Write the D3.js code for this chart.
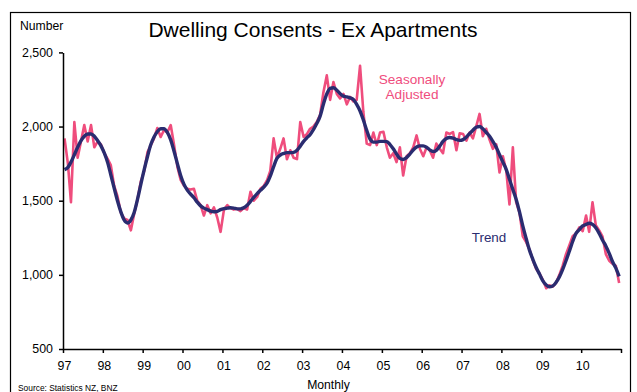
<!DOCTYPE html>
<html>
<head>
<meta charset="utf-8">
<script src="https://cdn.jsdelivr.net/npm/d3@7"></script>
<style>
  html, body { margin: 0; padding: 0; background: #fff; }
  svg { display: block; font-family: "Liberation Sans", Arial, sans-serif; }
</style>
</head>
<body>
<svg id="chart" width="637" height="392"></svg>
<script>
// Monthly dwelling consents excluding apartments, Jan 1997 - Dec 2010
const startYear = 1997;
const yearTicks = [1997, 1998, 1999, 2000, 2001, 2002, 2003, 2004, 2005, 2006, 2007, 2008, 2009, 2010, 2011];
const valueTicks = [500, 1000, 1500, 2000, 2500];

const seasonallyAdjusted = [
  1920, 1750, 1490, 2030, 1790, 1900, 2010, 1900, 2010, 1860, 1900, 1880, // 1997
  1820, 1780, 1740, 1600, 1530, 1420, 1380, 1370, 1300, 1410, 1510, 1630, // 1998
  1700, 1830, 1870, 1920, 1990, 1930, 1975, 1960, 2010, 1880, 1730, 1640, // 1999
  1600, 1580, 1575, 1580, 1500, 1470, 1400, 1470, 1415, 1455, 1385, 1290, // 2000
  1440, 1470, 1450, 1440, 1445, 1430, 1450, 1440, 1560, 1500, 1525, 1580, // 2001
  1600, 1640, 1700, 1920, 1790, 1850, 1920, 1780, 1840, 1790, 1780, 2030, // 2002
  1930, 1950, 1985, 2000, 2030, 2080, 2230, 2345, 2180, 2300, 2220, 2190, // 2003
  2220, 2150, 2200, 2170, 2180, 2410, 2100, 1885, 1875, 1960, 1875, 1960, // 2004
  1965, 1860, 1790, 1820, 1760, 1860, 1670, 1800, 1820, 1860, 1940, 1850, // 2005
  1800, 1860, 1840, 1790, 1885, 1850, 1820, 1960, 1950, 1963, 1840, 1955, // 2006
  1950, 1905, 1960, 1920, 2000, 2085, 1935, 1985, 1910, 1850, 1880, 1690, // 2007
  1800, 1700, 1475, 1860, 1490, 1420, 1260, 1220, 1170, 1100, 1040, 1010, // 2008
   965,  910,  930,  920,  945, 1000, 1060, 1140, 1200, 1260, 1280, 1320, // 2009
  1295, 1400, 1290, 1490, 1335, 1300, 1260, 1140, 1095, 1075, 1060,  945  // 2010
];

const trend = [
  1710, 1725, 1760, 1810, 1860, 1905, 1935, 1950, 1950, 1935, 1905, 1870, // 1997
  1820, 1755, 1675, 1585, 1500, 1425, 1370, 1350, 1370, 1420, 1510, 1610, // 1998
  1710, 1800, 1875, 1930, 1965, 1985, 1985, 1960, 1910, 1835, 1750, 1670, // 1999
  1610, 1570, 1545, 1520, 1490, 1465, 1450, 1440, 1430, 1425, 1428, 1440, // 2000
  1447, 1450, 1452, 1450, 1445, 1445, 1452, 1470, 1495, 1522, 1548, 1570, // 2001
  1592, 1620, 1665, 1730, 1785, 1808, 1818, 1824, 1824, 1826, 1840, 1868, // 2002
  1900, 1925, 1945, 1980, 2020, 2070, 2150, 2220, 2258, 2262, 2245, 2222, // 2003
  2205, 2200, 2193, 2182, 2150, 2105, 2045, 1975, 1915, 1895, 1895, 1900, // 2004
  1900, 1898, 1880, 1850, 1815, 1785, 1778, 1790, 1815, 1842, 1862, 1870, // 2005
  1870, 1860, 1843, 1832, 1840, 1868, 1900, 1920, 1926, 1922, 1912, 1907, // 2006
  1912, 1930, 1952, 1975, 1995, 2000, 1985, 1960, 1935, 1900, 1860, 1810, // 2007
  1760, 1710, 1645, 1575, 1510, 1425, 1330, 1245, 1165, 1105, 1050, 1005, // 2008
   960,  932,  920,  925,  948,  985, 1035, 1095, 1160, 1225, 1280, 1305, // 2009
  1330, 1340, 1348, 1340, 1318, 1280, 1235, 1195, 1145, 1090, 1045,  990  // 2010
];

const pink = "#ef4d7d";
const navy = "#2a2c70";

const svg = d3.select("#chart");

// outer frame
svg.append("rect")
  .attr("x", 10.5).attr("y", 12.5)
  .attr("width", 620).attr("height", 392)
  .attr("fill", "none").attr("stroke", "#000").attr("stroke-width", 1.2);

const x = d3.scaleTime()
  .domain([new Date(1997, 0, 1), new Date(2011, 0, 1)])
  .range([63, 621]);
const y = d3.scaleLinear()
  .domain([500, 2500])
  .range([349, 52.4]);

// each monthly value sits mid-month
const monthDate = i => new Date(startYear, i, 15);

const line = d3.line()
  .x((d, i) => x(monthDate(i)))
  .y(d => y(d));

svg.append("path")
  .datum(seasonallyAdjusted)
  .attr("d", line)
  .attr("fill", "none")
  .attr("stroke", pink)
  .attr("stroke-width", 2.6)
  .attr("stroke-linejoin", "round");

svg.append("path")
  .datum(trend)
  .attr("d", line.curve(d3.curveMonotoneX))
  .attr("fill", "none")
  .attr("stroke", navy)
  .attr("stroke-width", 3.4)
  .attr("stroke-linejoin", "round");

// axes
const xAxis = d3.axisBottom(x)
  .tickValues(yearTicks.map(yr => new Date(yr, 0, 1)))
  .tickFormat(d => d.getFullYear() === 2011 ? "" : String(d.getFullYear() % 100).padStart(2, "0"))
  .tickSize(4)
  .tickSizeOuter(0)
  .tickPadding(8);

const yAxis = d3.axisLeft(y)
  .tickValues(valueTicks)
  .tickFormat(d3.format(","))
  .tickSize(4)
  .tickSizeOuter(0)
  .tickPadding(6);

const gx = svg.append("g").attr("transform", "translate(0,349)").call(xAxis);
const gy = svg.append("g").attr("transform", "translate(63,0)").call(yAxis);

[gx, gy].forEach(g => {
  g.select(".domain").attr("stroke", "#000").attr("stroke-width", 1.5);
  g.selectAll(".tick line").attr("stroke", "#000").attr("stroke-width", 1.5);
  g.selectAll(".tick text")
    .attr("fill", "#000")
    .style("font-family", "'Liberation Sans', Arial, sans-serif")
    .style("font-size", "12.4px");
});
gx.selectAll(".tick text").attr("dx", "1");

// titles and labels
svg.append("text")
  .attr("x", 313).attr("y", 37)
  .attr("text-anchor", "middle")
  .style("font-size", "21px")
  .text("Dwelling Consents - Ex Apartments");

svg.append("text")
  .attr("x", 20).attr("y", 30)
  .style("font-size", "12.2px")
  .text("Number");

svg.append("text")
  .attr("x", 328.5).attr("y", 389)
  .attr("text-anchor", "middle")
  .style("font-size", "12.2px")
  .text("Monthly");

svg.append("text")
  .attr("x", 18).attr("y", 391)
  .style("font-size", "8.4px")
  .text("Source: Statistics NZ, BNZ");

const saLabel = svg.append("text")
  .attr("text-anchor", "middle")
  .attr("fill", pink)
  .style("font-size", "13.6px");
saLabel.append("tspan").attr("x", 412).attr("y", 84).text("Seasonally");
saLabel.append("tspan").attr("x", 412).attr("y", 98.5).text("Adjusted");

svg.append("text")
  .attr("x", 489).attr("y", 242)
  .attr("text-anchor", "middle")
  .attr("fill", navy)
  .style("font-size", "13.4px")
  .text("Trend");
</script>
</body>
</html>
